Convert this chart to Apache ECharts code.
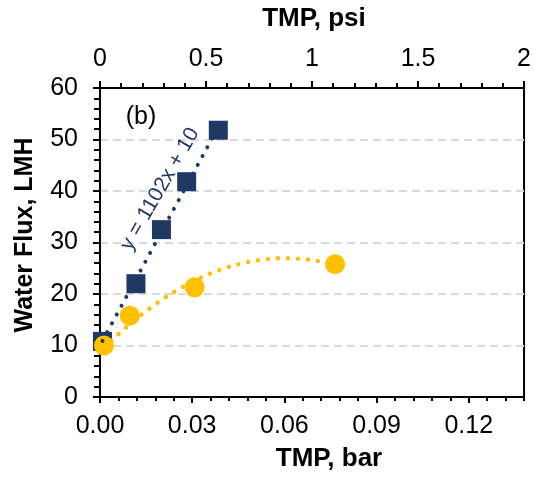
<!DOCTYPE html>
<html>
<head>
<meta charset="utf-8">
<script src="https://cdn.jsdelivr.net/npm/echarts@6/dist/echarts.min.js"></script>
<style>
  html, body { margin: 0; padding: 0; background: #fff; }
  #chart { width: 534px; height: 477px; }
</style>
</head>
<body>
<div id="chart"></div>
<script>
// Measured points: transmembrane pressure (bar) vs. water flux (LMH)
const tmpBarSquares = [0.0008, 0.0117, 0.0200, 0.0282, 0.0385];
const fluxSquares   = [10.8, 22.0, 32.5, 41.8, 51.8];
const tmpBarCircles = [0.0013, 0.0097, 0.0308, 0.0765];
const fluxCircles   = [10.0, 15.8, 21.3, 25.8];

// Trendline coefficients (c0 + c1*x + c2*x^2)
const linearFit = [10, 1102];
const polyFit   = [8.77, 603, -5000];

// Axis ticks
const barTicks  = [0, 0.03, 0.06, 0.09, 0.12];
const barMax    = 0.138;          // 2 psi expressed in bar
const psiTicks  = [0, 0.5, 1, 1.5, 2];
const fluxTicks = [0, 10, 20, 30, 40, 50, 60];

const NAVY = '#203864';
const GOLD = '#FFC000';
const FONT = '"Liberation Sans", Arial, sans-serif';

function evalPoly(c, x) {
  let y = 0, p = 1;
  for (let i = 0; i < c.length; i++) { y += c[i] * p; p *= x; }
  return y;
}
function trendPoints(c, x0, x1, n) {
  const pts = [];
  for (let i = 0; i <= n; i++) {
    const x = x0 + (x1 - x0) * i / n;
    pts.push([x, evalPoly(c, x)]);
  }
  return pts;
}

const chart = echarts.init(document.getElementById('chart'), null, { renderer: 'canvas' });

const tickLabelStyle = { color: '#000', fontSize: 25, fontFamily: FONT };

const option = {
  animation: false,
  backgroundColor: '#fff',
  grid: {
    left: 100, right: 8, top: 88, bottom: 80,
    show: true, borderColor: '#000', borderWidth: 2, backgroundColor: 'transparent'
  },
  xAxis: [
    { // bottom axis in bar: labels and major ticks
      type: 'value', position: 'bottom', gridIndex: 0,
      min: 0, max: barMax, interval: barTicks[1] - barTicks[0],
      axisLine: { show: true, lineStyle: { color: '#000', width: 2 } },
      axisTick: { show: true, inside: false, length: 6, lineStyle: { color: '#000', width: 2 },
                  customValues: barTicks },
      axisLabel: { ...tickLabelStyle, margin: 17,
                   customValues: barTicks,
                   formatter: v => v.toFixed(2) },
      splitLine: { show: false }
    },
    { // bottom axis in bar: minor ticks every 0.006
      type: 'value', position: 'bottom', gridIndex: 0,
      min: 0, max: barMax, interval: 0.006,
      axisLine: { show: false },
      axisTick: { show: true, inside: false, length: 4, lineStyle: { color: '#000', width: 2 } },
      axisLabel: { show: false },
      splitLine: { show: false }
    },
    { // top axis in psi
      type: 'value', position: 'top', gridIndex: 0,
      min: psiTicks[0], max: psiTicks[psiTicks.length - 1], interval: psiTicks[1] - psiTicks[0],
      axisLine: { show: true, lineStyle: { color: '#000', width: 2 } },
      axisTick: { show: true, inside: false, length: 7, lineStyle: { color: '#000', width: 2 } },
      minorTick: { show: true, splitNumber: 5, length: 5, lineStyle: { color: '#000', width: 2 } },
      axisLabel: { ...tickLabelStyle, margin: 16 },
      splitLine: { show: false }
    }
  ],
  yAxis: [
    {
      type: 'value', position: 'left', gridIndex: 0,
      min: fluxTicks[0], max: fluxTicks[fluxTicks.length - 1], interval: fluxTicks[1] - fluxTicks[0],
      axisLine: { show: true, lineStyle: { color: '#000', width: 2 } },
      axisTick: { show: true, inside: false, length: 7, lineStyle: { color: '#000', width: 2 } },
      minorTick: { show: true, splitNumber: 5, length: 6, lineStyle: { color: '#000', width: 2 } },
      axisLabel: { ...tickLabelStyle, margin: 22 },
      splitLine: { show: true, lineStyle: { color: '#D9D9D9', width: 2, type: [8, 5] } }
    }
  ],
  series: [
    {
      type: 'scatter', xAxisIndex: 0, yAxisIndex: 0, z: 2,
      symbol: 'rect', symbolSize: 19,
      itemStyle: { color: NAVY, opacity: 1 },
      data: tmpBarSquares.map((x, i) => [x, fluxSquares[i]])
    },
    {
      type: 'scatter', xAxisIndex: 0, yAxisIndex: 0, z: 3,
      symbol: 'circle', symbolSize: 20,
      itemStyle: { color: GOLD, opacity: 1 },
      data: tmpBarCircles.map((x, i) => [x, fluxCircles[i]])
    },
    { // polynomial trendline through the circles
      type: 'line', xAxisIndex: 0, yAxisIndex: 0, z: 4,
      showSymbol: false, silent: true,
      lineStyle: { color: GOLD, width: 4.5, type: [0.01, 10], cap: 'round' },
      data: trendPoints(polyFit, tmpBarCircles[0], tmpBarCircles[tmpBarCircles.length - 1], 80)
    },
    { // linear trendline through the squares
      type: 'line', xAxisIndex: 0, yAxisIndex: 0, z: 5,
      showSymbol: false, silent: true,
      lineStyle: { color: NAVY, width: 4, type: [0.01, 10], cap: 'round' },
      data: trendPoints(linearFit, tmpBarSquares[0], tmpBarSquares[tmpBarSquares.length - 1], 1)
    }
  ],
  graphic: [
    { type: 'text', x: 314, y: 19, style: { text: 'TMP, psi', font: 'bold 26px ' + FONT,
      fill: '#000', align: 'center', verticalAlign: 'middle' } },
    { type: 'text', x: 329, y: 459, style: { text: 'TMP, bar', font: 'bold 26px ' + FONT,
      fill: '#000', align: 'center', verticalAlign: 'middle' } },
    { type: 'text', x: 25, y: 235, rotation: Math.PI / 2, style: { text: 'Water Flux, LMH',
      font: 'bold 25px ' + FONT, fill: '#000', align: 'center', verticalAlign: 'middle' } },
    { type: 'text', x: 141, y: 117, style: { text: '(b)', font: '25px ' + FONT,
      fill: '#000', align: 'center', verticalAlign: 'middle' } },
    { type: 'text', x: 160, y: 189, rotation: 60 * Math.PI / 180, z: 10,
      style: { text: 'y = 1102x + 10', font: '21px ' + FONT, fill: NAVY,
      align: 'center', verticalAlign: 'middle' } }
  ]
};

chart.setOption(option);
</script>
</body>
</html>
